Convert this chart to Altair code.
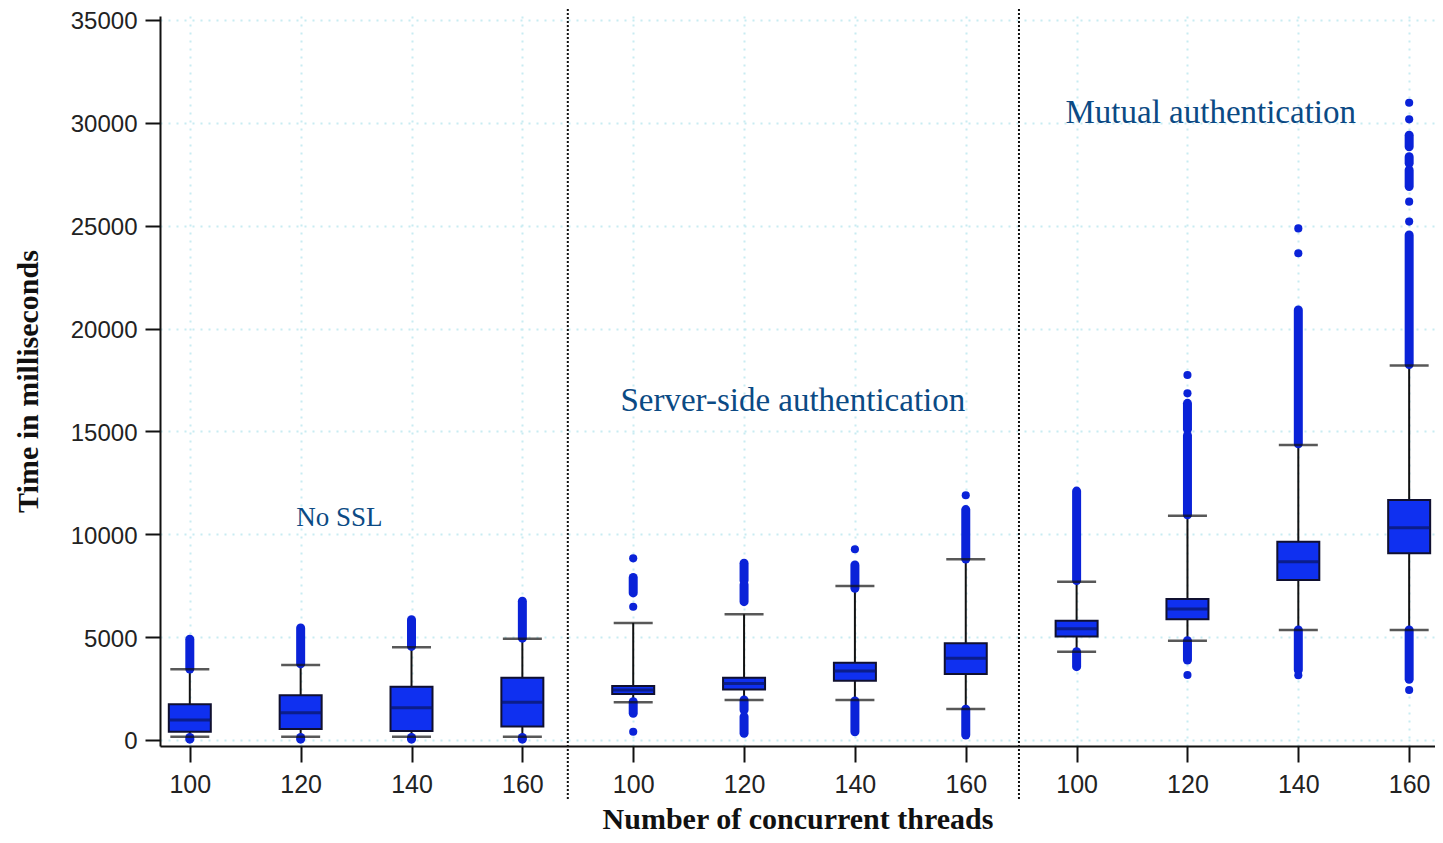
import altair as alt
import pandas as pd

# ---------------- data ----------------
groups = ["No SSL"] * 4 + ["Server-side authentication"] * 4 + ["Mutual authentication"] * 4
threads = ["100", "120", "140", "160", "100", "120", "140", "160", "100", "120", "140", "160"]
q1 = [405, 535, 440, 650, 2235, 2460, 2880, 3210, 5025, 5865, 7780, 9075]
median = [970, 1330, 1570, 1830, 2430, 2745, 3355, 3970, 5410, 6370, 8670, 10320]
q3 = [1735, 2170, 2590, 3030, 2625, 3030, 3760, 4700, 5800, 6855, 9640, 11665]
whisker_low = [160, 160, 160, 160, 1830, 1945, 1945, 1505, 4290, 4825, 5350, 5350]
whisker_high = [3435, 3645, 4505, 4925, 5690, 6110, 7485, 8785, 7695, 10905, 14340, 18200]

# dense stretches of outliers (box index, from, to)
run_box = [0, 0, 1, 1, 2, 2, 3, 3, 4, 4, 5, 5, 5, 5, 6, 6, 7, 7, 8, 8, 9, 9, 9, 10, 10,
           11, 11, 11, 11, 11]
run_lo = [3450, 40, 3700, 40, 4550, 40, 4950, 40, 7150, 1300, 7750, 6725, 1460, 325, 7375, 400,
          8800, 245, 7750, 3565, 15100, 10950, 3890, 14400, 3400,
          28840, 28030, 26900, 18250, 2950]
run_hi = [4900, 120, 5450, 120, 5850, 120, 6750, 120, 7900, 1860, 8590, 7550, 1945, 1130, 8505, 1900,
          11200, 1500, 12100, 4290, 16365, 14800, 4825, 20900, 5350,
          29400, 28350, 27710, 24550, 5350]

# isolated outliers (box index, value)
point_box = [4, 4, 4, 6, 7, 9, 9, 9, 10, 10, 10, 11, 11, 11, 11, 11]
point_val = [8830, 6480, 400, 9270, 11900, 17740, 16850, 3160, 24870, 23660, 3150,
             30980, 30170, 26170, 25200, 2430]

annot_text = ["No SSL", "Server-side authentication", "Mutual authentication"]
annot_x = [1.35, 5.44, 9.21]
annot_y = [10790, 16480, 30480]
annot_size = [27, 33, 33]

separators = [3.41, 7.48]
y_ticks = [0, 5000, 10000, 15000, 20000, 25000, 30000, 35000]

# ---------------- tables ----------------
boxes = pd.DataFrame({
    "pos": list(range(len(threads))), "group": groups, "threads": threads,
    "q1": q1, "median": median, "q3": q3, "wlo": whisker_low, "whi": whisker_high,
})
runs = pd.DataFrame({"pos": run_box, "lo": run_lo, "hi": run_hi})
points = pd.DataFrame({"pos": point_box, "val": point_val})
annots = pd.DataFrame({"text": annot_text, "x": annot_x, "y": annot_y, "size": annot_size})
seps = pd.DataFrame({"x": separators})

BOX_BLUE = "#0f30f0"
DOT_BLUE = "#0a22d8"
NAVY = "#0a1560"
SERIF = "Liberation Serif"
SANS = "Liberation Sans"

label_expr = "[" + ",".join("'%s'" % t for t in threads) + "][datum.value]"

x_scale = alt.Scale(domain=[-0.2238, 11.188], nice=False, zero=False)
y_scale = alt.Scale(domain=[-292, 35194], nice=False, zero=False)

x_axis = alt.Axis(
    values=list(range(len(threads))), labelExpr=label_expr,
    title="Number of concurrent threads", titleFont=SERIF, titleFontWeight="bold",
    titleFontSize=30, titleColor="#111", titleY=82, titleBaseline="alphabetic",
    labelFont=SANS, labelFontSize=25, labelColor="#222", labelPadding=10,
    tickSize=16, tickWidth=2, tickColor="#111", domainColor="#111", domainWidth=2,
    grid=True, gridColor="#c8ecf2", gridDash=[2, 6], gridWidth=2,
)
y_axis = alt.Axis(
    values=y_ticks, format="d",
    title="Time in milliseconds", titleFont=SERIF, titleFontWeight="bold",
    titleFontSize=30, titleColor="#111", titleX=-132, titleY=365,
    titleBaseline="middle", titleAlign="center", titleAngle=270,
    labelFont=SANS, labelFontSize=24, labelColor="#222", labelPadding=8,
    labelOffset=2,
    tickSize=15, tickWidth=2, tickColor="#111", domainColor="#111", domainWidth=2,
    grid=True, gridColor="#c8ecf2", gridDash=[2, 6], gridWidth=2,
)

X = alt.X("pos:Q", scale=x_scale, axis=x_axis)
Y = lambda f: alt.Y(f, scale=y_scale, axis=y_axis)

base = alt.Chart(boxes)

whiskers = base.mark_rule(color="#111", strokeWidth=2).encode(
    x=X, y=Y("wlo:Q"), y2="whi:Q")

run_marks = alt.Chart(runs).mark_rule(color=DOT_BLUE, strokeWidth=9, strokeCap="round").encode(
    x=X, y=Y("lo:Q"), y2="hi:Q")

point_marks = alt.Chart(points).mark_point(
    shape="circle", filled=True, size=66, color=DOT_BLUE, opacity=1).encode(
    x=X, y=Y("val:Q"))

box_marks = base.mark_bar(size=42, color=BOX_BLUE, stroke="#101030", strokeWidth=2).encode(
    x=X, y=Y("q1:Q"), y2="q3:Q")

median_marks = base.mark_tick(orient="horizontal", size=42, thickness=3, color=NAVY).encode(
    x=X, y=Y("median:Q"))

cap_hi = base.mark_tick(orient="horizontal", size=39, thickness=2.5, color="#111").encode(
    x=X, y=Y("whi:Q"))
cap_lo = base.mark_tick(orient="horizontal", size=39, thickness=2.5, color="#111").encode(
    x=X, y=Y("wlo:Q"))

sep_marks = alt.Chart(seps).mark_rule(color="#111", strokeWidth=2, strokeDash=[2, 2]).encode(
    x=alt.X("x:Q", scale=x_scale), y=alt.value(-7), y2=alt.value(784))

annot_marks = alt.Chart(annots).mark_text(
    font=SERIF, color="#0b4a84", align="center", baseline="middle").encode(
    x=alt.X("x:Q", scale=x_scale), y=alt.Y("y:Q", scale=y_scale),
    text="text:N", size=alt.Size("size:Q", scale=None, legend=None))

chart = alt.layer(
    whiskers, run_marks, point_marks, box_marks, median_marks, cap_hi, cap_lo,
    sep_marks, annot_marks,
).properties(
    width=1275, height=730,
    autosize=alt.AutoSizeParams(type="none"),
    padding={"left": 152, "top": 8, "right": 0, "bottom": 88},
    background="white",
).configure_view(stroke=None)

chart.save("out.html", embed_options={"renderer": "svg", "actions": False})
